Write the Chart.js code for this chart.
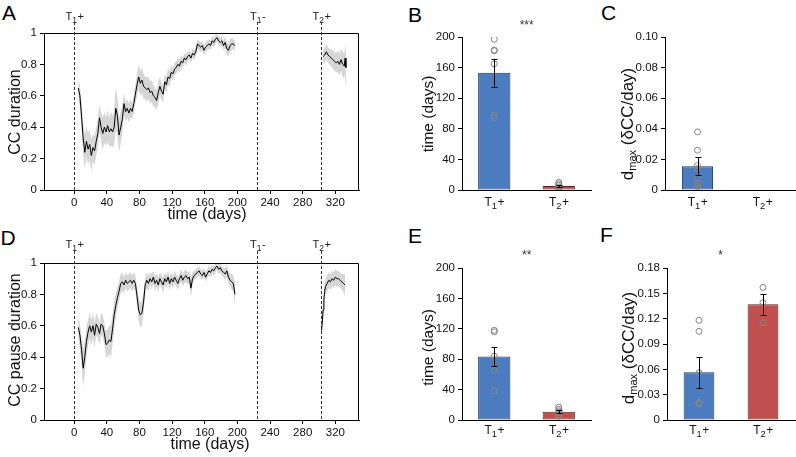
<!DOCTYPE html>
<html><head><meta charset="utf-8">
<script src="https://cdn.jsdelivr.net/npm/chart.js@4.4.1/dist/chart.umd.min.js"></script>
<style>
html,body{margin:0;padding:0;background:#fff;}
body{width:796px;height:457px;overflow:hidden;position:relative;font-family:"Liberation Sans",Arial,sans-serif;}
.box{position:absolute;}
.let{position:absolute;font-size:21px;line-height:21px;color:#000;}
</style></head><body>
<div class="let" style="left:2px;top:2px">A</div>
<div class="let" style="left:408px;top:4px">B</div>
<div class="let" style="left:601px;top:2px">C</div>
<div class="let" style="left:0.5px;top:227px">D</div>
<div class="let" style="left:408px;top:225px">E</div>
<div class="let" style="left:600px;top:224px">F</div>
<div class="box" style="left:0;top:0;width:380px;height:225px"><canvas id="cA"></canvas></div>
<div class="box" style="left:380px;top:0;width:220px;height:225px"><canvas id="cB"></canvas></div>
<div class="box" style="left:600px;top:0;width:200px;height:225px"><canvas id="cC"></canvas></div>
<div class="box" style="left:0;top:230px;width:380px;height:227px"><canvas id="cD"></canvas></div>
<div class="box" style="left:380px;top:230px;width:220px;height:227px"><canvas id="cE"></canvas></div>
<div class="box" style="left:600px;top:230px;width:200px;height:227px"><canvas id="cF"></canvas></div>
<script>
// ---------- DATA ----------
const tickDays = [0,40,80,120,160,200,240,280,320];
const tickCC = [0,0.2,0.4,0.6,0.8,1];
const labelsCC = ['0','0.2','0.4','0.6','0.8','1'];
const eventDays = [0,224,302];
const eventNames = ['T1+','T1-','T2+'];

const daysS1 = [5,7,9,11,13,15,17,19,21,23,25,27,29,31,33,35,37,39,41,43,45,47,49,51,53,55,57,59,61,63,65,67,69,71,73,75,77,79,81,83,85,87,89,91,93,95,97,99,101,103,105,107,109,111,113,115,117,119,121,123,125,127,129,131,133,135,137,139,141,143,145,147,149,151,153,155,157,159,161,163,165,167,169,171,173,175,177,179,181,183,185,187,189,191,193,195,197];
const ccA1 = [.65,.60,.47,.33,.24,.31,.26,.29,.22,.27,
 .25,.31,.36,.46,.40,.36,.40,.37,.41,.37,
 .39,.37,.40,.52,.47,.35,.40,.45,.55,.50,
 .52,.49,.52,.50,.55,.61,.67,.72,.68,.70,
 .66,.65,.64,.65,.62,.63,.60,.59,.57,.62,
 .66,.63,.61,.69,.67,.72,.71,.75,.74,.77,
 .78,.80,.79,.82,.81,.84,.83,.85,.86,.84,
 .87,.86,.88,.93,.92,.91,.92,.89,.91,.92,
 .93,.92,.95,.94,.96,.97,.95,.94,.95,.92,
 .94,.90,.89,.92,.93,.93,.92];
const bandA1 = [.06,.07,.09,.10,.11,.10,.10,.10,.10,.09,
 .09,.09,.09,.09,.09,.10,.10,.09,.10,.09,
 .11,.10,.11,.14,.12,.11,.10,.09,.07,.06,
 .06,.06,.06,.05,.06,.06,.07,.08,.08,.08,
 .08,.07,.08,.07,.07,.07,.07,.06,.06,.07,
 .06,.06,.05,.05,.05,.05,.05,.04,.04,.04,
 .04,.04,.04,.04,.03,.03,.04,.03,.03,.03,
 .03,.03,.03,.03,.03,.03,.03,.03,.03,.03,
 .03,.03,.03,.03,.03,.02,.03,.03,.03,.03,
 .04,.04,.04,.04,.04,.03,.03];
const daysA2 = [305,307,309,311,313,315,317,319,321,323,325,327,329,331,332,333];
const ccA2 = [.85,.86,.88,.86,.85,.84,.83,.82,.81,.82,.80,.83,.80,.79,.84,.78];
const bandA2 = [.04,.05,.05,.05,.05,.05,.06,.06,.06,.07,.07,.07,.08,.08,.09,.10];

const ccD1 = [.59,.54,.45,.33,.40,.50,.56,.60,.56,.60,
 .54,.61,.59,.55,.61,.60,.55,.48,.49,.51,
 .50,.58,.67,.73,.78,.82,.87,.88,.86,.89,
 .87,.88,.89,.87,.89,.87,.79,.70,.67,.68,
 .75,.86,.89,.87,.90,.88,.91,.87,.89,.86,
 .90,.88,.86,.90,.88,.91,.87,.90,.88,.91,
 .89,.87,.90,.92,.89,.91,.92,.90,.91,.84,
 .90,.92,.93,.94,.95,.93,.92,.94,.91,.93,
 .95,.94,.96,.95,.97,.98,.96,.97,.95,.94,
 .93,.95,.91,.89,.88,.87,.80];
const bandD1 = [.07,.08,.09,.12,.11,.09,.08,.08,.08,.08,
 .08,.07,.07,.07,.07,.07,.07,.08,.09,.09,
 .10,.10,.09,.08,.07,.06,.06,.06,.05,.05,
 .05,.05,.05,.05,.05,.05,.06,.07,.08,.08,
 .07,.05,.05,.05,.04,.05,.04,.05,.04,.05,
 .04,.04,.05,.04,.04,.04,.04,.04,.04,.04,
 .04,.04,.04,.04,.04,.04,.04,.04,.04,.06,
 .04,.03,.03,.03,.03,.03,.03,.03,.03,.03,
 .03,.03,.03,.03,.03,.02,.03,.03,.03,.03,
 .04,.04,.04,.04,.05,.05,.08];
const daysD2 = [303,304,305,306,307,308,310,312,314,316,318,320,322,324,326,328,330,332];
const ccD2 = [.57,.62,.70,.77,.82,.85,.87,.89,.88,.90,.89,.91,.90,.90,.89,.88,.87,.86];
const bandD2 = [.08,.08,.07,.06,.05,.05,.05,.05,.05,.05,.05,.05,.05,.05,.05,.05,.06,.07];

const groups = ['T1+','T2+'];
const tickTime = [0,40,80,120,160,200];
const labelsTime = ['0','40','80','120','160','200'];
const tickC = [0,0.02,0.04,0.06,0.08,0.10];
const labelsC = ['0','0.02','0.04','0.06','0.08','0.10'];
const tickF = [0,0.03,0.06,0.09,0.12,0.15,0.18];
const labelsF = ['0','0.03','0.06','0.09','0.12','0.15','0.18'];

const timeB = [153.3, 5.2];   const semB = [18.5, 1.6];
const ptsB1 = [197,183,182,165,98,95]; const ptsB2 = [10,8,6,4,2,1];
const dmaxC = [0.0156, null]; const semC = [0.0057, null];
const ptsC1 = [0.038,0.026,0.016,0.014,0.008,0.004,0.002]; const ptsC2 = [];
const timeE = [83.6, 10.9];   const semE = [13, 2];
const ptsE1 = [118,116,84,65,38]; const ptsE2 = [17,14,12,10,7,5];
const dmaxF = [0.0564, 0.137]; const semF = [0.0184, 0.0125];
const ptsF1 = [0.118,0.105,0.056,0.021,0.020,0.019]; const ptsF2 = [0.157,0.139,0.115];

// ---------- HELPERS ----------
const FF = '"Liberation Sans", Arial, Helvetica, sans-serif';
const fnt = s => s + 'px ' + FF;
function subLabel(ctx, text, x, y, size, color){
  const base = text[0], sub = text[1], tail = text.slice(2);
  ctx.save(); ctx.fillStyle = color; ctx.textAlign='left'; ctx.textBaseline='alphabetic';
  ctx.font = fnt(size); const w1 = ctx.measureText(base).width;
  ctx.font = fnt(size*0.78); const w2 = ctx.measureText(sub).width;
  ctx.font = fnt(size); const w3 = ctx.measureText(tail).width;
  let x0 = x - (w1+w2+w3)/2;
  ctx.font = fnt(size); ctx.fillText(base, x0, y);
  ctx.font = fnt(size*0.78); ctx.fillText(sub, x0+w1, y+size*0.28);
  ctx.font = fnt(size); ctx.fillText(tail, x0+w1+w2+0.5, y);
  ctx.restore();
}
function rotTitle(ctx, parts, x, y, size){
  ctx.save(); ctx.translate(x,y); ctx.rotate(-Math.PI/2);
  ctx.fillStyle='#111'; ctx.textAlign='left'; ctx.textBaseline='middle';
  let tot = 0;
  parts.forEach(p=>{ ctx.font = fnt(p.sub ? size*0.65 : size); p.w = ctx.measureText(p.t).width; tot += p.w; });
  let cx = -tot/2;
  parts.forEach(p=>{ ctx.font = fnt(p.sub ? size*0.65 : size); ctx.fillText(p.t, cx, p.sub ? size*0.3 : 0); cx += p.w; });
  ctx.restore();
}
const axisGrid = {drawOnChartArea:false, drawTicks:true, tickLength:4, color:'#000', lineWidth:1};
const axisBorder = {display:true, color:'#000', width:1};
const tickFont = {family:FF, size:11.5};

function tsChart(id, o){
  const segs = o.segs, ds = [];
  segs.forEach(s=>{
    ds.push({data:s.days.map((d,i)=>({x:d,y:s.cc[i]+s.band[i]})), borderColor:'rgba(0,0,0,0)', borderWidth:0, pointRadius:0, fill:'+1', backgroundColor:'#d6d6d6', order:2, tension:0});
    ds.push({data:s.days.map((d,i)=>({x:d,y:s.cc[i]-s.band[i]})), borderColor:'rgba(0,0,0,0)', borderWidth:0, pointRadius:0, fill:false, order:2, tension:0});
  });
  segs.forEach(s=>{
    ds.push({data:s.days.map((d,i)=>({x:d,y:s.cc[i]})), borderColor:'#000', borderWidth:1, pointRadius:0, fill:false, order:1, tension:0});
  });
  new Chart(document.getElementById(id), {
    type:'line', data:{datasets:ds},
    options:{
      animation:false, responsive:true, maintainAspectRatio:false, events:[],
      layout:{padding:{top:o.padTop, right:o.padRight, left:0, bottom:0}},
      plugins:{legend:{display:false}, tooltip:{enabled:false}},
      scales:{
        x:{type:'linear', min:-37, max:349,
           afterBuildTicks:s=>{s.ticks = tickDays.map(v=>({value:v}));},
           afterFit:s=>{s.height = o.xH;},
           ticks:{font:tickFont, color:'#111', padding:2, autoSkip:false, maxRotation:0, callback:v=>String(v)},
           grid:axisGrid, border:axisBorder},
        y:{type:'linear', min:0, max:1,
           afterBuildTicks:s=>{s.ticks = tickCC.map(v=>({value:v}));},
           afterFit:s=>{s.width = 44;},
           ticks:{font:tickFont, color:'#111', padding:3, callback:v=>labelsCC[tickCC.indexOf(v)]},
           grid:axisGrid, border:axisBorder}
      }
    },
    plugins:[{id:'deco'+id, afterDraw(chart){
      const ctx = chart.ctx, a = chart.chartArea, xs = chart.scales.x;
      ctx.save();
      ctx.strokeStyle='#000'; ctx.lineWidth=1;
      const t = Math.round(a.top)+0.5, r = Math.round(a.right)-0.5;
      ctx.beginPath(); ctx.moveTo(a.left, t); ctx.lineTo(r, t); ctx.lineTo(r, a.bottom); ctx.stroke();
      ctx.setLineDash([3,2]); ctx.strokeStyle='#333';
      eventDays.forEach((d,i)=>{
        const px = Math.round(xs.getPixelForValue(d))+0.5;
        ctx.beginPath(); ctx.moveTo(px, o.dashTop); ctx.lineTo(px, a.bottom); ctx.stroke();
        subLabel(ctx, eventNames[i], px, o.evBase, 11, '#222');
      });
      ctx.setLineDash([]);
      ctx.fillStyle='#111'; ctx.font=fnt(16); ctx.textAlign='center'; ctx.textBaseline='middle';
      ctx.fillText('time (days)', o.xtX, o.xtY);
      rotTitle(ctx, [{t:o.ytitle}], o.ytX, o.ytY, 16);
      ctx.restore();
    }}]
  });
}

const BLUE='#4a7cbf', BLUE_E='#1c355c', RED='#c0504d', RED_E='#5e2220';
function barChart(id, o){
  const pts = o.p1.map(v=>({x:groups[0], y:v})).concat(o.p2.map(v=>({x:groups[1], y:v})));
  new Chart(document.getElementById(id), {
    type:'bar',
    data:{labels:groups, datasets:[
      {type:'bar', data:o.vals, backgroundColor:[BLUE,RED], borderColor:[BLUE_E,RED_E], borderWidth:1, borderSkipped:false, barPercentage:o.barPct, categoryPercentage:1, order:2},
      {type:'line', data:pts, showLine:false, pointRadius:3, pointBorderWidth:1, pointBorderColor:'#858585', pointBackgroundColor:'rgba(0,0,0,0)', order:1}
    ]},
    options:{
      animation:false, responsive:true, maintainAspectRatio:false, events:[],
      layout:{padding:{top:o.padTop, right:o.padRight, left:0, bottom:0}},
      plugins:{legend:{display:false}, tooltip:{enabled:false}},
      scales:{
        x:{type:'category', offset:true, grid:{display:false}, border:axisBorder, ticks:{display:false},
           afterFit:s=>{s.height = o.xH;}},
        y:{type:'linear', min:0, max:o.max,
           afterBuildTicks:s=>{s.ticks = o.ticks.map(v=>({value:v}));},
           afterFit:s=>{s.width = o.yW;},
           ticks:{font:tickFont, color:'#111', padding:3, callback:v=>o.labels[o.ticks.indexOf(v)]},
           grid:axisGrid, border:axisBorder}
      }
    },
    plugins:[{id:'eb'+id, afterDatasetsDraw(chart){
      const ctx = chart.ctx, xs = chart.scales.x, ys = chart.scales.y;
      ctx.save(); ctx.strokeStyle='#000'; ctx.lineWidth=1;
      o.vals.forEach((v,i)=>{
        if (v==null || o.sem[i]==null) return;
        const px = Math.round(xs.getPixelForValue(i))+0.5;
        const t = Math.round(ys.getPixelForValue(v+o.sem[i]))+0.5, b = Math.round(ys.getPixelForValue(v-o.sem[i]))+0.5;
        ctx.beginPath(); ctx.moveTo(px,t); ctx.lineTo(px,b);
        ctx.moveTo(px-3,t); ctx.lineTo(px+3,t); ctx.moveTo(px-3,b); ctx.lineTo(px+3,b); ctx.stroke();
      });
      groups.forEach((g,i)=> subLabel(ctx, g, xs.getPixelForValue(i), o.catBase, 12, '#111'));
      if (o.stars){ ctx.fillStyle='#333'; ctx.font=fnt(12); ctx.textAlign='center'; ctx.textBaseline='alphabetic'; ctx.fillText(o.stars, o.starX, o.starY); }
      rotTitle(ctx, o.ytitle, o.ytX, o.ytY, o.ytSize);
      ctx.restore();
    }}]
  });
}

// ---------- CHARTS ----------
tsChart('cA', {segs:[{days:daysS1, cc:ccA1, band:bandA1},{days:daysA2, cc:ccA2, band:bandA2}],
  padTop:33, padRight:21, xH:35, dashTop:22, evBase:19.5, xtX:207, xtY:214.5, ytX:16, ytY:112, ytitle:'CC duration'});
tsChart('cD', {segs:[{days:daysS1, cc:ccD1, band:bandD1},{days:daysD2, cc:ccD2, band:bandD2}],
  padTop:33, padRight:21, xH:37, dashTop:21, evBase:17.5, xtX:210, xtY:215, ytX:16, ytY:110, ytitle:'CC pause duration'});

const dTitle = () => [{t:'d'},{t:'max',sub:true},{t:' (δCC/day)'}];
barChart('cB', {vals:timeB, sem:semB, p1:ptsB1, p2:ptsB2, max:200, ticks:tickTime, labels:labelsTime,
  padTop:37, padRight:9, xH:35, yW:82, barPct:0.5, catBase:206, stars:'***', starX:146.7, starY:29,
  ytitle:[{t:'time (days)'}], ytX:49, ytY:114, ytSize:15.5});
barChart('cC', {vals:dmaxC, sem:semC, p1:ptsC1, p2:ptsC2, max:0.10, ticks:tickC, labels:labelsC,
  padTop:37, padRight:4, xH:35, yW:65, barPct:0.48, catBase:206, stars:null,
  ytitle:dTitle(), ytX:28, ytY:124, ytSize:17});
barChart('cE', {vals:timeE, sem:semE, p1:ptsE1, p2:ptsE2, max:200, ticks:tickTime, labels:labelsTime,
  padTop:38, padRight:9, xH:37, yW:82, barPct:0.5, catBase:204, stars:'**', starX:146.7, starY:28.7,
  ytitle:[{t:'time (days)'}], ytX:49, ytY:117.5, ytSize:15.5});
barChart('cF', {vals:dmaxF, sem:semF, p1:ptsF1, p2:ptsF2, max:0.18, ticks:tickF, labels:labelsF,
  padTop:38, padRight:4, xH:37, yW:67, barPct:0.48, catBase:204, stars:'*', starX:120.7, starY:28.7,
  ytitle:dTitle(), ytX:29, ytY:118, ytSize:17});
</script>
</body></html>
